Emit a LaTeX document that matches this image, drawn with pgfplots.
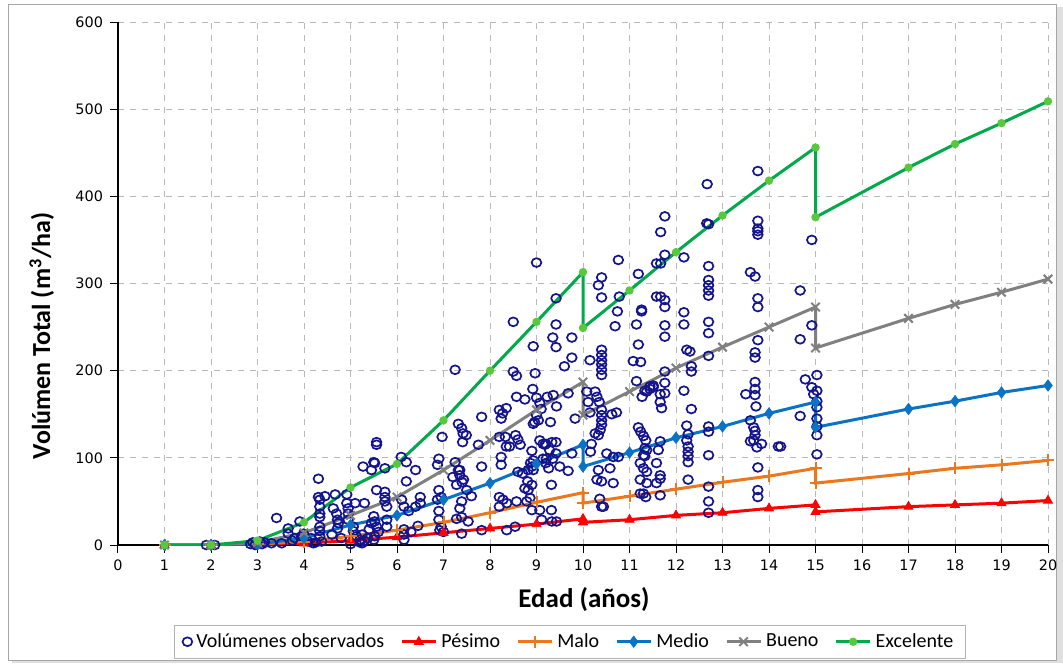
\documentclass[border=0pt]{standalone}
\usepackage{pgfplots}
\pgfplotsset{compat=1.18}
\usepackage{fontspec}
\setmainfont{Carlito}
\newfontfamily\tickfont{DejaVu Sans}
\definecolor{obsblue}{RGB}{20,20,140}
\definecolor{pesimo}{RGB}{255,0,0}
\definecolor{malo}{RGB}{235,120,30}
\definecolor{medio}{RGB}{10,115,195}
\definecolor{bueno}{RGB}{128,128,128}
\definecolor{excel}{RGB}{0,170,75}
\definecolor{excelmark}{RGB}{90,200,60}
\begin{document}
\begin{tikzpicture}
\useasboundingbox (0,0) rectangle (531.5pt,331.5pt);
\fill[gray!25] (6pt,0pt) rectangle (531.5pt,328pt);
\fill[white, draw=gray!70, line width=0.5pt] (4pt,1.5pt) rectangle (528pt,329pt);
\begin{axis}[
    at={(59pt,59pt)}, anchor=south west,
    width=465pt, height=261.5pt, scale only axis,
    xmin=0, xmax=20, ymin=0, ymax=600,
    xtick distance=1, ytick distance=100,
    axis x line*=bottom, axis y line*=left,
    axis line style={black, line width=0.6pt},
    tick align=outside, major tick length=4pt,
    tick style={black, line width=0.5pt},
    grid=major,
    grid style={gray!55, dashed, line width=0.35pt},
    /pgf/number format/assume math mode=true,
    ticklabel style={font=\tickfont\fontsize{7.2}{8}\selectfont},
    xlabel={\textbf{Edad (años)}},
    xlabel style={font=\fontsize{13.5}{15}\selectfont, at={(axis description cs:0.501,-0.105)}, anchor=center},
    ylabel={\textbf{Volúmen Total (m\textsuperscript{3}/ha)}},
    ylabel style={font=\fontsize{13}{15}\selectfont, at={(axis description cs:-0.082,0.40)}, anchor=center},
    legend columns=-1,
    legend style={at={(axis description cs:0.486,-0.185)}, anchor=center,
        font=\fontsize{10}{11}\selectfont, draw=gray!60, line width=0.4pt,
        inner xsep=4pt, inner ysep=2pt,
        /tikz/every even column/.append style={column sep=6pt}},
    legend image code/.code={
        \draw[mark repeat=2,mark phase=2] plot coordinates {(0cm,0cm) (0.3cm,0cm) (0.6cm,0cm)};},
]
\addplot[only marks, mark=o, obsblue, mark size=2.2pt, mark options={line width=0.85pt, xscale=1.1}] coordinates {
(1.9,0)(2.08,0)(2.85,1)(2.9,3)(2.95,0)(3.0,2)(3.05,4)(3.1,1)(3.15,3)(3.3,2)(3.41,31)(3.52,2)(3.66,19)(3.66,13)(3.75,5)(3.91,27)(3.95,10)(3.99,13)(4.09,4)(4.2,2)(3.8,8)(4.0,6)(4.15,8)(4.25,3)
(4.31,76)(4.31,55)(4.34,52)(4.34,44)(4.34,36)(4.34,32)(4.45,56)(4.34,21)(4.34,16)(4.34,10)(4.38,4)(4.67,58)(4.63,42)(4.7,36)(4.72,29)(4.74,25)(4.72,19)(4.6,12)(4.8,8)(4.92,58)(4.92,48)(4.95,42)(4.95,36)(4.95,29)(5.1,48)(5.06,21)(5.06,16)(5.13,10)(5.2,6)(5.25,2)(5.3,5)(5.37,8)(5.25,12)(5.3,48)(5.27,90)(5.45,86)(5.5,95)(5.52,94)(5.56,118)(5.56,115)(5.74,88)(5.56,63)(5.74,61)(5.74,55)(5.74,50)(5.78,44)(5.5,33)(5.52,27)(5.56,21)(5.6,15)(5.52,10)(5.5,6)(5.78,29)(5.78,21)(5.4,18)(5.45,25)(5.2,3)(5.0,1)
(6.09,101)(6.2,95)(6.4,86)(6.2,73)(6.1,52)(6.15,44)(6.25,39)(6.4,44)(6.5,55)(6.5,48)(6.15,18)(6.15,12)(6.15,6)(6.45,22)(6.3,15)(6.87,92)(6.9,99)(6.97,124)(6.9,63)(6.95,55)(6.87,52)(6.9,39)(6.9,29)(6.95,21)(7.0,15)(7.25,95)(7.2,78)(7.35,86)(7.4,72)
(7.25,201)(7.32,139)(7.39,134)(7.42,128)(7.49,126)(7.41,118)(7.75,115)(7.82,147)(7.82,90)
(8.2,155)(8.27,151)(8.35,157)(8.24,145)(8.2,124)(8.33,124)(8.24,101)(8.24,92)(8.35,113)(8.42,113)
(8.5,256)(8.5,199)(8.57,194)(8.57,170)(8.75,167)(8.55,126)(8.6,121)(8.65,115)
(8.6,84)(8.7,82)(8.82,86)(8.9,90)(8.93,86)(8.75,65)(8.82,63)(8.86,54)
(8.93,228)(8.97,197)(8.92,179)(9.0,169)(9.0,149)(8.93,139)(9.04,143)
(9.07,120)(9.14,116)(9.18,115)(9.14,99)(9.21,99)(8.93,97)(8.57,50)(8.79,50)(8.9,40)(9.07,40)
(7.32,86)(7.35,80)(7.43,75)(7.28,69)(7.5,63)(7.6,56)(7.39,50)(7.35,42)(7.39,32)(7.28,30)(7.53,27)(7.39,13)
(8.2,55)(8.28,52)(8.36,48)(8.2,44)(8.36,17)(8.54,21)(6.92,17)(7.82,17)
(9.0,324)(9.42,283)(9.42,253)(9.35,238)(9.42,227)(9.76,238)(9.76,215)(9.6,205)
(10.76,327)(10.4,307)(10.33,298)(10.4,284)(10.78,285)(10.74,268)(10.69,251)
(11.19,311)(11.26,268)(11.15,253)(11.19,230)(11.08,211)(11.24,210)(11.58,323)(11.58,285)
(10.4,224)(10.4,218)(10.4,212)(10.4,207)(10.4,201)(10.4,195)(10.15,212)
(10.26,176)(10.3,170)(10.35,164)(10.4,155)(10.4,149)(10.4,143)(10.4,138)(10.37,132)(10.33,126)
(9.83,145)(10.15,152)(10.08,176)(10.11,164)(10.62,150)(10.72,152)(10.18,116)(10.16,107)(10.26,128)
(10.51,105)(10.65,101)(10.76,101)(10.58,88)(10.33,86)(10.3,75)(10.4,73)(10.65,71)(10.36,53)(10.4,44)(10.44,44)
(11.15,188)(11.33,177)(11.44,182)(11.51,183)(11.27,170)
(11.19,135)(11.24,130)(11.3,125)(11.35,120)(11.37,109)(11.3,103)(11.23,94)(11.3,88)(11.37,84)(11.23,75)(11.37,71)(11.23,59)(11.35,55)
(11.58,71)(11.58,94)(11.62,109)
(9.33,118)(9.42,118)(9.2,116)(9.28,109)(9.42,105)(9.35,99)(9.36,172)(9.23,170)(9.07,163)(9.1,156)(8.96,141)(9.3,141)(9.43,159)(9.68,174)(9.76,105)(9.5,90)(9.2,94)(9.26,88)(8.9,108)(8.87,94)(8.81,73)(8.9,69)(9.32,69)(9.32,40)(9.11,29)(9.33,27)(9.43,27)(9.68,85)
(11.76,377)(11.67,359)(11.76,333)(11.67,323)(12.17,330)(12.66,369)(12.7,368)(12.7,320)(12.7,304)(12.7,298)(12.7,292)(12.7,286)
(13.76,372)(13.76,363)(13.76,360)(13.76,356)(13.6,313)(13.7,308)(13.76,283)(13.76,273)
(11.67,285)(11.76,281)(11.76,273)(11.26,270)(11.76,252)(11.76,239)(12.17,267)(12.17,253)(12.7,256)(12.7,243)(13.76,235)
(12.23,224)(12.3,222)(12.33,205)(12.33,199)(12.7,217)(13.7,221)(13.7,215)
(11.76,199)(11.76,186)(11.66,173)(11.51,181)(11.44,179)(11.37,176)(11.66,164)(11.69,157)(11.76,174)(12.17,177)(12.33,156)
(13.7,187)(13.7,179)(13.7,172)(13.5,173)(13.72,159)
(12.7,136)(12.7,130)(12.23,137)(12.26,127)(12.23,120)(12.26,113)(12.26,107)(12.26,102)(12.26,95)(12.26,75)
(13.6,143)(13.67,135)(13.7,131)(13.7,126)(13.67,120)(13.6,119)(13.74,112)(13.84,116)(14.2,113)
(12.7,103)(11.66,119)(11.33,111)(11.33,102)(11.66,80)(11.66,76)
(12.7,67)(12.7,50)(12.7,37)(13.76,89)(13.76,63)(13.76,55)(11.3,59)(11.66,57)(13.76,429)(12.67,414)
(14.92,350)(14.67,292)(14.92,252)(14.67,236)(15.03,195)(14.78,190)(14.92,181)(15.03,177)(14.96,173)(15.03,158)(15.03,145)(15.03,126)(15.03,104)(14.67,148)(14.25,113)(15.03,165)(15.03,136)
};
\addlegendentry{Volúmenes observados}
\addplot[pesimo, line width=1.5pt, mark=triangle*, mark size=2.6pt, mark options={line width=0.4pt}] coordinates {
(1,0)(2,0)(3,0.5)(4,2)(5,5)(6,9)(7,14)(8,19)(9,24)(10,30)(10,26)(11,29)(12,34)(13,37)(14,42)(15,46)(15,38)(17,44)(18,46)(19,48)(20,51)};
\addlegendentry{Pésimo}
\addplot[malo, line width=1.5pt, mark=+, mark size=3pt, mark options={line width=1pt}] coordinates {
(1,0)(2,0)(3,1)(4,4)(5,10)(6,17)(7,26)(8,37)(9,49)(10,60)(10,48)(11,56)(12,64)(13,72)(14,79)(15,88)(15,71)(17,82)(18,88)(19,92)(20,97)};
\addlegendentry{Malo}
\addplot[medio, line width=1.5pt, mark=diamond*, mark size=2.8pt, mark options={line width=0.4pt}] coordinates {
(1,0)(2,0)(3,1)(4,8)(5,23)(6,34)(7,52)(8,71)(9,93)(10,115)(10,90)(11,106)(12,123)(13,136)(14,151)(15,164)(15,135)(17,156)(18,165)(19,175)(20,183)};
\addlegendentry{Medio}
\addplot[bueno, line width=1.5pt, mark=x, mark size=3pt, mark options={line width=1pt}] coordinates {
(1,0)(2,0)(3,3)(4,14)(5,34)(6,55)(7,86)(8,120)(9,155)(10,187)(10,149)(11,176)(12,203)(13,227)(14,250)(15,273)(15,226)(17,260)(18,276)(19,290)(20,305)};
\addlegendentry{Bueno}
\addplot[excel, line width=1.5pt, mark=*, mark size=1.3pt, mark options={fill=excelmark, draw=excelmark}] coordinates {
(1,0)(2,0)(3,5)(4,26)(5,66)(6,93)(7,143)(8,200)(9,256)(10,313)(10,249)(11,292)(12,336)(13,378)(14,418)(15,456)(15,376)(17,433)(18,460)(19,484)(20,509)};
\addlegendentry{Excelente}
\end{axis}
\end{tikzpicture}
\end{document}
